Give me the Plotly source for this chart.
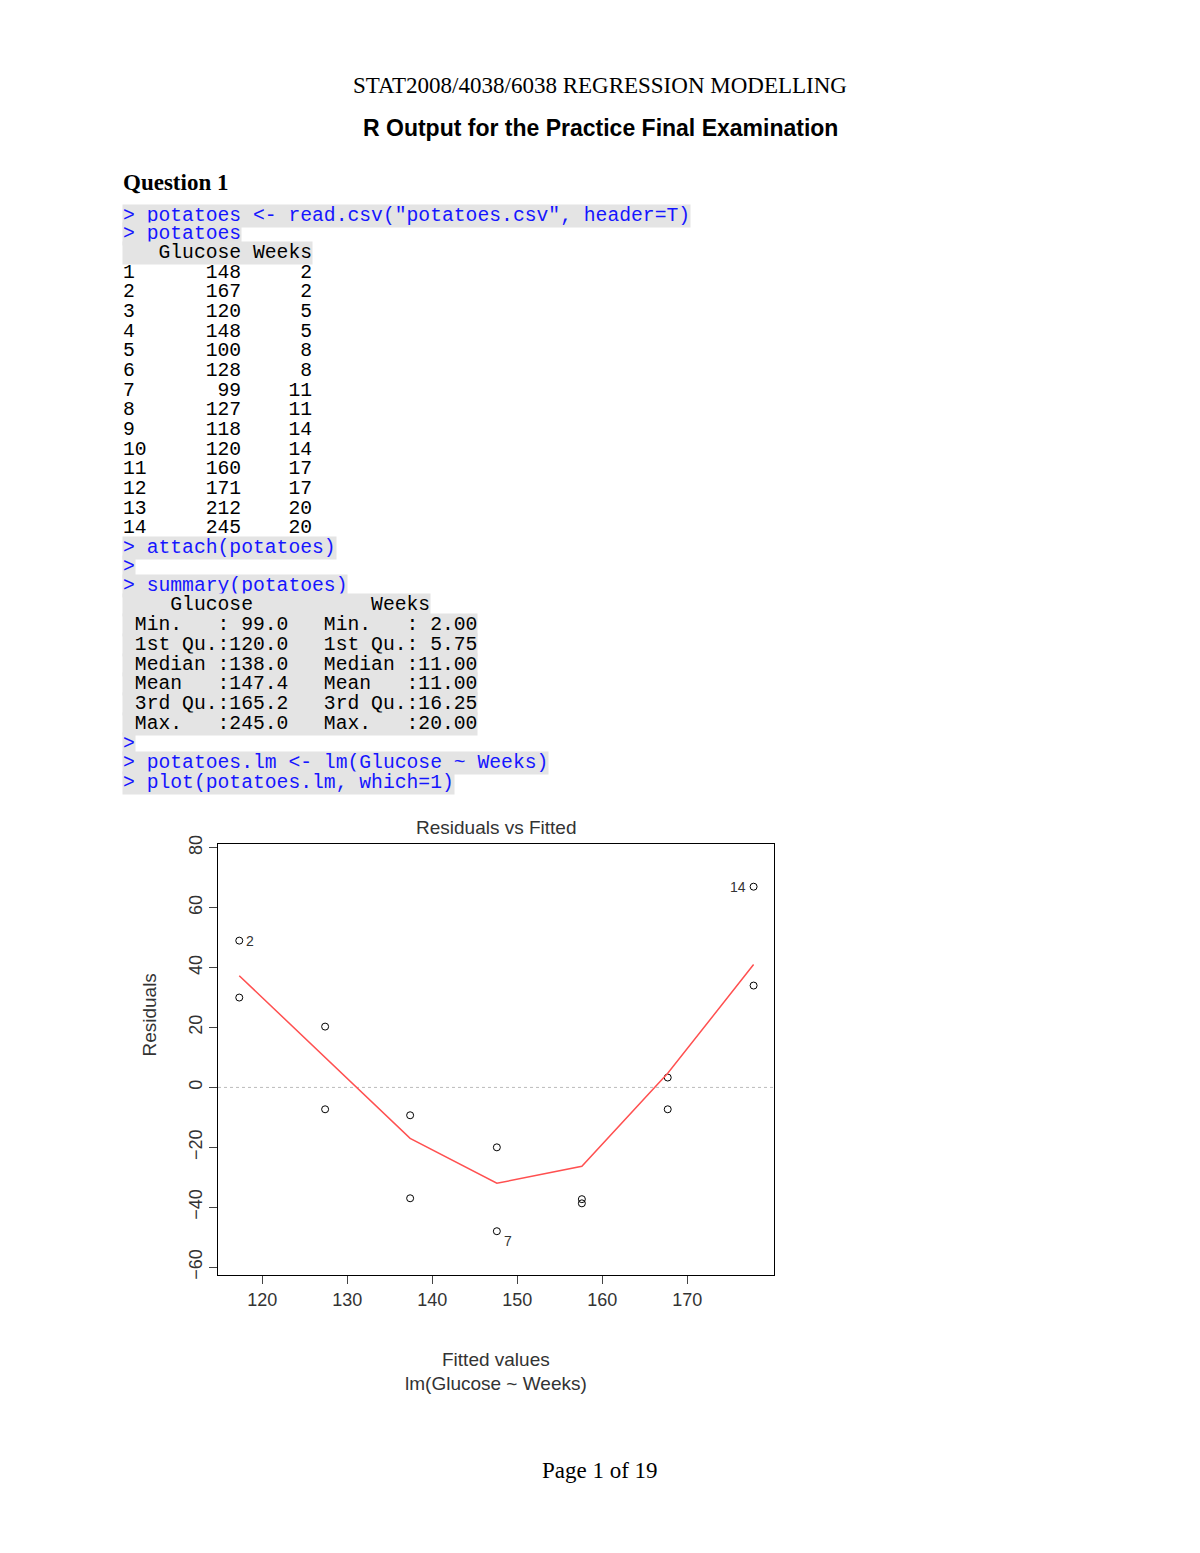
import plotly.graph_objects as go

W, H = 1200, 1553

# R data table
glucose = [148, 167, 120, 148, 100, 128, 99, 127, 118, 120, 160, 171, 212, 245]
weeks = [2, 2, 5, 5, 8, 8, 11, 11, 14, 14, 17, 17, 20, 20]

# residuals vs fitted
fitted = [117.3, 117.3, 127.4, 127.4, 137.4, 137.4, 147.6, 147.6,
          157.6, 157.6, 167.7, 167.7, 177.8, 177.8]
resid = [49, 30, 20.3, -7.3, -9.3, -37, -20, -48, -37.3, -38.7, 3.3, -7.3, 67, 34]
smooth_x = [117.3, 137.4, 147.6, 157.6, 167.7, 177.8]
smooth_y = [37.3, -17, -32, -26.3, 4.7, 41]
xticks = [120, 130, 140, 150, 160, 170]
yticks = [-60, -40, -20, 0, 20, 40, 60, 80]

summary_lines = [
    "    Glucose          Weeks",
    " Min.   : 99.0   Min.   : 2.00",
    " 1st Qu.:120.0   1st Qu.: 5.75",
    " Median :138.0   Median :11.00",
    " Mean   :147.4   Mean   :11.00",
    " 3rd Qu.:165.2   3rd Qu.:16.25",
    " Max.   :245.0   Max.   :20.00",
]

def px(x, y):
    # page pixels -> paper coords (compensates the page offset seen in the render)
    x = x - 8
    y = (y - 15) / 0.993
    return x / W, 1 - y / H

anns = []

def text(x, y, s, size=19.7, family="Liberation Serif", color="black",
         xanchor="left", bg=None, bold=False):
    xx, yy = px(x, y)
    if bold:
        s = "<b>" + s + "</b>"
    anns.append(dict(x=xx, y=yy, xref="paper", yref="paper", text=s.replace(" ", "\u00a0"),
                     showarrow=False, xanchor=xanchor, yanchor="middle",
                     font=dict(size=size, family=family, color=color),
                     bgcolor=bg, borderpad=0))

BLUE = "#1515ff"
GRAY = "#e4e4e4"
MONO = "Liberation Mono"

text(600, 84, "STAT2008/4038/6038 REGRESSION MODELLING", size=23, xanchor="center")
text(600, 126, "R Output for the Practice Final Examination", size=23,
     family="Liberation Sans", xanchor="center", bold=True)
text(122, 181, "Question 1", size=23, bold=True)

code = lambda y, s: text(122, y, s, family=MONO, color=BLUE, bg=GRAY)
out = lambda y, s: text(122, y, s, family=MONO, color="black", bg=GRAY)

code(214, '> potatoes <- read.csv("potatoes.csv", header=T)')
code(232, "> potatoes")
out(251, "   Glucose Weeks")
for i, (g, w) in enumerate(zip(glucose, weeks)):
    text(122, 271 + i * 19.7, f"{i + 1:<3}{g:>7}{w:>6}", family=MONO)
code(547, "> attach(potatoes)")
code(566, ">")
code(585, "> summary(potatoes)")
for i, s in enumerate(summary_lines):
    out(604 + i * 19.8, s)
code(743, ">")
code(762, "> potatoes.lm <- lm(Glucose ~ Weeks)")
code(782, "> plot(potatoes.lm, which=1)")

text(600, 1471, "Page 1 of 19", size=23, xanchor="center")

# chart labels
SANS = "Liberation Sans"
text(496, 827, "Residuals vs Fitted", size=19, family=SANS, color="#333", xanchor="center")
text(496, 1359, "Fitted values", size=19, family=SANS, color="#333", xanchor="center")
text(496, 1383, "lm(Glucose ~ Weeks)", size=19, family=SANS, color="#333", xanchor="center")
xx, yy = px(137, 1058)
anns.append(dict(x=xx, y=yy, xref="paper", yref="paper", text="Residuals", textangle=-90,
                 showarrow=False, font=dict(size=19, family=SANS, color="#333")))
# point labels
for lx, ly, s, anc in [(117.3, 49, "2", "left"), (177.8, 67, "14", "right"), (147.6, -48, "7", "left")]:
    anns.append(dict(x=lx, y=ly, xref="x", yref="y", text=s, showarrow=False,
                     xanchor=anc, yanchor="top" if s == "7" else "middle",
                     xshift=5 if anc == "left" else -6,
                     font=dict(size=14, family=SANS, color="#333")))

fig = go.Figure()
fig.add_trace(go.Scatter(x=[114.8, 180.2], y=[0, 0], mode="lines",
                         line=dict(color="#bbbbbb", width=1, dash="dot")))
fig.add_trace(go.Scatter(x=fitted, y=resid, mode="markers",
                         marker=dict(symbol="circle-open", size=7, color="black",
                                     line=dict(width=1))))
fig.add_trace(go.Scatter(x=smooth_x, y=smooth_y, mode="lines",
                         line=dict(color="#ff5050", width=1.5)))

x0, y1 = px(218, 1275)
x1, y0 = px(774, 843)
fig.update_layout(
    width=W, height=H, margin=dict(l=0, r=0, t=0, b=0),
    paper_bgcolor="white", plot_bgcolor="white", showlegend=False,
    annotations=anns,
    xaxis=dict(domain=[x0, x1], range=[114.8, 180.2], tickvals=xticks,
               showgrid=False, zeroline=False, showline=True, mirror=True,
               linecolor="black", linewidth=1, ticks="outside", ticklen=8,
               tickfont=dict(size=18, family=SANS, color="#333")),
    yaxis=dict(domain=[y1, y0], range=[-62.7, 81.3], tickvals=yticks,
               showgrid=False, zeroline=False, showline=True, mirror=True,
               linecolor="black", linewidth=1, ticks="outside", ticklen=8,
               tickangle=-90,
               tickfont=dict(size=18, family=SANS, color="#333")),
)

fig.write_html("out.html")
